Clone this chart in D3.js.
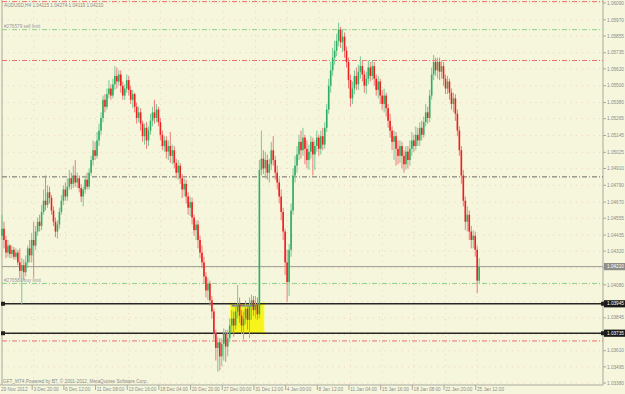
<!DOCTYPE html>
<html><head><meta charset="utf-8">
<script src="https://cdn.jsdelivr.net/npm/d3@7"></script>
<style>html,body{margin:0;padding:0;background:#f6f6dc;overflow:hidden}svg{display:block}text{font-family:"Liberation Sans",Arial,sans-serif}</style>
</head><body><svg id="c" width="625" height="394"></svg>
<script>
// ---------- data ----------
const priceTicks=[1.06090,1.05970,1.05855,1.05735,1.05620,1.05500,1.05380,1.05265,1.05145,1.05025,1.04910,1.04790,1.04670,1.04555,1.04435,1.04320,1.04200,1.04080,1.03960,1.03845,1.03725,1.03610,1.03495,1.03380];
const dateLabels=["29 Nov 2012","3 Dec 20:00","6 Dec 12:00","11 Dec 08:00","13 Dec 16:00","18 Dec 04:00","20 Dec 20:00","27 Dec 00:00","31 Dec 12:00","4 Jan 00:00","8 Jan 12:00","11 Jan 04:00","15 Jan 16:00","18 Jan 08:00","22 Jan 20:00","25 Jan 12:00"];
const dateLabelBars=[0,16,32,48,64,80,96,112,128,144,160,176,192,208,224,240];
const close=[1.0448,1.0440,1.0431,1.0436,1.0430,1.0433,1.0428,1.0431,1.0424,1.0418,
1.0422,1.0417,1.0424,1.0434,1.0429,1.0440,1.0436,1.0446,1.0453,1.0450,
1.0460,1.0468,1.0465,1.0474,1.0470,1.0461,1.0453,1.0446,1.0451,1.0460,
1.0468,1.0476,1.0471,1.0478,1.0484,1.0480,1.0486,1.0481,1.0484,1.0477,
1.0471,1.0476,1.0483,1.0478,1.0488,1.0497,1.0504,1.0500,1.0511,1.0518,
1.0527,1.0540,1.0535,1.0544,1.0548,1.0543,1.0551,1.0557,1.0553,1.0558,
1.0550,1.0543,1.0548,1.0554,1.0547,1.0540,1.0544,1.0535,1.0527,1.0531,
1.0523,1.0514,1.0520,1.0511,1.0518,1.0525,1.0531,1.0527,1.0533,1.0524,
1.0515,1.0507,1.0511,1.0503,1.0507,1.0500,1.0504,1.0495,1.0488,1.0493,
1.0484,1.0476,1.0480,1.0471,1.0463,1.0467,1.0456,1.0447,1.0451,1.0440,
1.0431,1.0424,1.0414,1.0404,1.0409,1.0397,1.0389,1.0373,1.0363,1.0367,
1.0357,1.0366,1.0373,1.0364,1.0370,1.0379,1.0384,1.0379,1.0389,1.0394,
1.0386,1.0379,1.0384,1.0391,1.0383,1.0393,1.0397,1.0390,1.0394,1.0387,
1.0490,1.0498,1.0491,1.0497,1.0488,1.0494,1.0504,1.0497,1.0488,1.0481,
1.0471,1.0460,1.0446,1.0424,1.0410,1.0433,1.0461,1.0486,1.0493,1.0501,
1.0510,1.0504,1.0513,1.0505,1.0497,1.0503,1.0510,1.0501,1.0507,1.0513,
1.0505,1.0514,1.0508,1.0520,1.0533,1.0550,1.0561,1.0570,1.0575,1.0582,
1.0590,1.0581,1.0585,1.0575,1.0567,1.0554,1.0541,1.0548,1.0557,1.0551,
1.0560,1.0564,1.0558,1.0550,1.0555,1.0563,1.0557,1.0564,1.0555,1.0547,
1.0553,1.0543,1.0537,1.0543,1.0534,1.0525,1.0518,1.0510,1.0514,1.0505,
1.0500,1.0507,1.0500,1.0494,1.0503,1.0497,1.0505,1.0511,1.0507,1.0515,
1.0511,1.0520,1.0515,1.0524,1.0531,1.0527,1.0543,1.0558,1.0567,1.0561,
1.0567,1.0560,1.0564,1.0555,1.0548,1.0553,1.0545,1.0537,1.0541,1.0530,
1.0518,1.0504,1.0486,1.0468,1.0453,1.0458,1.0446,1.0440,1.0443,1.0433,1.0411,1.0421];
const open=[1.0443,1.0448,1.0440,1.0431,1.0436,1.0430,1.0433,1.0428,1.0431,1.0424,
1.0418,1.0422,1.0417,1.0424,1.0434,1.0429,1.0440,1.0436,1.0446,1.0453,
1.0450,1.0460,1.0468,1.0465,1.0474,1.0470,1.0461,1.0453,1.0446,1.0451,
1.0460,1.0468,1.0476,1.0471,1.0478,1.0484,1.0480,1.0486,1.0481,1.0484,
1.0477,1.0471,1.0476,1.0483,1.0478,1.0488,1.0497,1.0504,1.0500,1.0511,
1.0518,1.0527,1.0540,1.0535,1.0544,1.0548,1.0543,1.0551,1.0557,1.0553,
1.0558,1.0550,1.0543,1.0548,1.0554,1.0547,1.0540,1.0544,1.0535,1.0527,
1.0531,1.0523,1.0514,1.0520,1.0511,1.0518,1.0525,1.0531,1.0527,1.0533,
1.0524,1.0515,1.0507,1.0511,1.0503,1.0507,1.0500,1.0504,1.0495,1.0488,
1.0493,1.0484,1.0476,1.0480,1.0471,1.0463,1.0467,1.0456,1.0447,1.0451,
1.0440,1.0431,1.0424,1.0414,1.0404,1.0409,1.0397,1.0389,1.0373,1.0363,
1.0367,1.0357,1.0366,1.0373,1.0364,1.0370,1.0379,1.0384,1.0379,1.0389,
1.0394,1.0386,1.0379,1.0384,1.0391,1.0383,1.0393,1.0397,1.0390,1.0394,
1.0387,1.0490,1.0498,1.0491,1.0497,1.0488,1.0494,1.0504,1.0497,1.0488,
1.0481,1.0471,1.0460,1.0446,1.0424,1.0410,1.0433,1.0461,1.0486,1.0493,
1.0501,1.0510,1.0504,1.0513,1.0505,1.0497,1.0503,1.0510,1.0501,1.0507,
1.0513,1.0505,1.0514,1.0508,1.0520,1.0533,1.0550,1.0561,1.0570,1.0575,
1.0582,1.0590,1.0581,1.0585,1.0575,1.0567,1.0554,1.0541,1.0548,1.0557,
1.0551,1.0560,1.0564,1.0558,1.0550,1.0555,1.0563,1.0557,1.0564,1.0555,
1.0547,1.0553,1.0543,1.0537,1.0543,1.0534,1.0525,1.0518,1.0510,1.0514,
1.0505,1.0500,1.0507,1.0500,1.0494,1.0503,1.0497,1.0505,1.0511,1.0507,
1.0515,1.0511,1.0520,1.0515,1.0524,1.0531,1.0527,1.0543,1.0558,1.0567,
1.0561,1.0567,1.0560,1.0564,1.0555,1.0548,1.0553,1.0545,1.0537,1.0541,
1.0530,1.0518,1.0504,1.0486,1.0468,1.0453,1.0458,1.0446,1.0440,1.0443,1.0433,1.0411];
const high=[1.0458,1.0453,1.0443,1.0440,1.0437,1.0436,1.0435,1.0434,1.0433,1.0434,
1.0427,1.0426,1.0429,1.0436,1.0440,1.0445,1.0453,1.0450,1.0456,1.0458,
1.0465,1.0476,1.0486,1.0479,1.0478,1.0472,1.0464,1.0456,1.0454,1.0463,
1.0472,1.0479,1.0481,1.0484,1.0490,1.0488,1.0493,1.0497,1.0488,1.0486,
1.0480,1.0478,1.0486,1.0488,1.0491,1.0500,1.0511,1.0510,1.0517,1.0523,
1.0531,1.0543,1.0544,1.0548,1.0554,1.0551,1.0555,1.0564,1.0563,1.0561,
1.0561,1.0553,1.0551,1.0558,1.0557,1.0550,1.0547,1.0545,1.0538,1.0535,
1.0534,1.0525,1.0523,1.0524,1.0521,1.0530,1.0535,1.0540,1.0537,1.0535,
1.0527,1.0518,1.0514,1.0514,1.0511,1.0517,1.0508,1.0507,1.0498,1.0497,
1.0495,1.0487,1.0484,1.0483,1.0474,1.0471,1.0470,1.0458,1.0454,1.0454,
1.0443,1.0436,1.0428,1.0417,1.0413,1.0411,1.0400,1.0391,1.0376,1.0371,
1.0370,1.0370,1.0377,1.0376,1.0376,1.0384,1.0390,1.0389,1.0394,1.0408,
1.0399,1.0390,1.0389,1.0397,1.0394,1.0399,1.0401,1.0400,1.0400,1.0399,
1.0497,1.0518,1.0504,1.0503,1.0501,1.0498,1.0510,1.0514,1.0500,1.0493,
1.0484,1.0476,1.0463,1.0448,1.0433,1.0437,1.0466,1.0491,1.0500,1.0507,
1.0515,1.0518,1.0520,1.0515,1.0511,1.0508,1.0514,1.0513,1.0511,1.0518,
1.0515,1.0518,1.0520,1.0524,1.0537,1.0555,1.0567,1.0577,1.0582,1.0587,
1.0595,1.0592,1.0590,1.0588,1.0578,1.0570,1.0558,1.0553,1.0561,1.0563,
1.0565,1.0571,1.0568,1.0561,1.0560,1.0568,1.0567,1.0568,1.0567,1.0558,
1.0557,1.0555,1.0547,1.0548,1.0545,1.0537,1.0530,1.0521,1.0518,1.0517,
1.0511,1.0511,1.0510,1.0504,1.0507,1.0507,1.0511,1.0517,1.0515,1.0521,
1.0520,1.0524,1.0525,1.0528,1.0537,1.0535,1.0547,1.0563,1.0572,1.0570,
1.0570,1.0570,1.0568,1.0567,1.0558,1.0557,1.0555,1.0548,1.0545,1.0544,
1.0533,1.0521,1.0507,1.0490,1.0471,1.0464,1.0461,1.0450,1.0447,1.0446,1.0436,1.0427];
const low=[1.0440,1.0434,1.0427,1.0428,1.0427,1.0427,1.0426,1.0426,1.0422,1.0413,
1.0394,1.0411,1.0414,1.0420,1.0424,1.0424,1.0413,1.0433,1.0443,1.0446,
1.0447,1.0458,1.0461,1.0463,1.0466,1.0458,1.0450,1.0442,1.0441,1.0448,
1.0458,1.0465,1.0468,1.0468,1.0476,1.0476,1.0477,1.0478,1.0477,1.0474,
1.0467,1.0464,1.0473,1.0476,1.0476,1.0486,1.0493,1.0497,1.0498,1.0507,
1.0515,1.0524,1.0531,1.0533,1.0541,1.0540,1.0541,1.0547,1.0548,1.0550,
1.0545,1.0540,1.0540,1.0545,1.0543,1.0537,1.0534,1.0531,1.0523,1.0524,
1.0518,1.0510,1.0508,1.0505,1.0507,1.0515,1.0521,1.0523,1.0524,1.0521,
1.0511,1.0504,1.0503,1.0498,1.0497,1.0495,1.0494,1.0491,1.0484,1.0483,
1.0480,1.0470,1.0471,1.0466,1.0458,1.0457,1.0451,1.0443,1.0440,1.0434,
1.0427,1.0420,1.0409,1.0399,1.0397,1.0393,1.0384,1.0369,1.0354,1.0346,
1.0347,1.0350,1.0354,1.0353,1.0357,1.0367,1.0374,1.0371,1.0376,1.0384,
1.0381,1.0373,1.0369,1.0380,1.0376,1.0370,1.0383,1.0386,1.0384,1.0383,
1.0384,1.0486,1.0487,1.0484,1.0483,1.0481,1.0490,1.0493,1.0483,1.0476,
1.0466,1.0454,1.0440,1.0415,1.0396,1.0400,1.0428,1.0458,1.0481,1.0488,
1.0497,1.0498,1.0500,1.0494,1.0491,1.0490,1.0498,1.0486,1.0490,1.0503,
1.0500,1.0501,1.0504,1.0505,1.0517,1.0530,1.0545,1.0557,1.0565,1.0571,
1.0578,1.0577,1.0574,1.0570,1.0563,1.0548,1.0535,1.0537,1.0544,1.0547,
1.0547,1.0555,1.0553,1.0545,1.0544,1.0551,1.0553,1.0554,1.0550,1.0543,
1.0541,1.0537,1.0533,1.0531,1.0528,1.0520,1.0513,1.0504,1.0497,1.0493,
1.0494,1.0495,1.0491,1.0488,1.0490,1.0491,1.0493,1.0500,1.0503,1.0504,
1.0507,1.0507,1.0511,1.0513,1.0521,1.0523,1.0524,1.0540,1.0554,1.0557,
1.0555,1.0554,1.0555,1.0550,1.0544,1.0544,1.0540,1.0533,1.0531,1.0525,
1.0514,1.0500,1.0480,1.0464,1.0447,1.0446,1.0440,1.0434,1.0434,1.0428,1.0402,1.0409];
const dashLevels=[1.0610,1.0590,1.0568,1.0485,1.0409,1.0368];
const dashKinds=["red","green","red","dark","green","red"];
const lineLevels=[1.03945,1.03735];
const lineLabels=["1.03945","1.03735"];
const bidPrice=1.04210, bidLabel="1.04210";
const rectPrices=[1.03945,1.03735], rectBars=[115.6,132.2];
const bluePrice=1.0393, blueBars=[116,128.4];
const headerText="AUDUSD,H4  1.04115 1.04274 1.04119 1.04210";
const sellLabel="#276579 sell limit", buyLabel="#276580 buy limit";
const footerText="GFT_MT4 Powered by BT, \u00a9 2001-2012, MetaQuotes Software Corp.";

// ---------- drawing ----------
const svg=d3.select("#c");
const W=625,H=394,plotR=603,plotB=385;
const y=d3.scaleLinear().domain([1.03380,1.06090]).range([383,3]);
const n=close.length;
const x=d3.scaleLinear().domain([0,n-1]).range([2,2+(n-1)*1.98]);
const fs=4.7, txt="#8c8c8c";

svg.append("rect").attr("width",W).attr("height",H).attr("fill","#f6f6dc");
const grid=svg.append("g").attr("stroke","#eab3ad").attr("stroke-width",0.8).attr("stroke-dasharray","0.8,5").attr("opacity",0.8);
grid.selectAll("line.h").data(priceTicks).join("line").attr("x1",2).attr("x2",plotR).attr("y1",d=>y(d)).attr("y2",d=>y(d));
grid.selectAll("line.v").data(dateLabelBars.slice(1)).join("line").attr("x1",d=>x(d)).attr("x2",d=>x(d)).attr("y1",0).attr("y2",plotB);

// frame
svg.append("line").attr("x1",2).attr("x2",2).attr("y1",0).attr("y2",plotB).attr("stroke","#a8a8a0").attr("stroke-width",1);
svg.append("line").attr("x1",plotR).attr("x2",plotR).attr("y1",0).attr("y2",plotB).attr("stroke","#a8a8a0").attr("stroke-width",1);
svg.append("line").attr("x1",0).attr("x2",plotR).attr("y1",plotB).attr("y2",plotB).attr("stroke","#a8a8a0").attr("stroke-width",1);

// yellow rectangle (behind candles)
svg.append("rect").attr("x",x(rectBars[0])).attr("y",y(rectPrices[0])).attr("width",x(rectBars[1])-x(rectBars[0])).attr("height",y(rectPrices[1])-y(rectPrices[0])).attr("fill","#f7f31c").attr("stroke","#fffb00");
[[rectBars[0],rectPrices[0]],[rectBars[1],rectPrices[0]],[rectBars[0],rectPrices[1]],[rectBars[1],rectPrices[1]]].forEach(p=>{
  svg.append("rect").attr("x",x(p[0])-1.5).attr("y",y(p[1])-1.5).attr("width",3).attr("height",3).attr("fill","#ffff40");
});

// dashed levels
const dashCol={red:"#ea7070",green:"#8ed08e",dark:"#6a6a66"};
svg.selectAll("line.dl").data(dashLevels).join("line").attr("x1",2).attr("x2",plotR).attr("y1",d=>y(d)).attr("y2",d=>y(d))
  .attr("stroke",(d,i)=>dashCol[dashKinds[i]]).attr("stroke-width",1).attr("stroke-dasharray","5,2,1,2");
// bid line
svg.append("line").attr("x1",2).attr("x2",plotR).attr("y1",y(bidPrice)).attr("y2",y(bidPrice)).attr("stroke","#9a9a96").attr("stroke-width",1);
// black horizontal lines
svg.selectAll("line.bl").data(lineLevels).join("line").attr("x1",2).attr("x2",plotR).attr("y1",d=>y(d)).attr("y2",d=>y(d)).attr("stroke","#262626").attr("stroke-width",1.6);
svg.selectAll("rect.bh").data(lineLevels).join("rect").attr("x",1).attr("y",d=>y(d)-2).attr("width",4).attr("height",4).attr("fill","#222");
// blue line
svg.append("line").attr("x1",x(blueBars[0])).attr("x2",x(blueBars[1])).attr("y1",y(bluePrice)).attr("y2",y(bluePrice)).attr("stroke","#3344dd").attr("stroke-width",1);

// candles
const idx=d3.range(n);
const cg=svg.append("g");
cg.selectAll("line.w").data(idx).join("line").attr("x1",i=>x(i)).attr("x2",i=>x(i)).attr("y1",i=>y(high[i])).attr("y2",i=>y(low[i]))
  .attr("stroke",i=>close[i]>=open[i]?"#78c996":"#f07a78").attr("stroke-width",1);
cg.selectAll("rect.b").data(idx).join("rect").attr("x",i=>x(i)-0.8).attr("width",1.6)
  .attr("y",i=>y(Math.max(open[i],close[i]))).attr("height",i=>Math.max(1,Math.abs(y(open[i])-y(close[i]))))
  .attr("fill",i=>close[i]>=open[i]?"#2fae62":"#f01e1e");

// texts
svg.append("text").attr("x",4).attr("y",7.2).attr("font-size",fs).attr("fill","#8a8a8a").text(headerText);
svg.append("text").attr("x",4).attr("y",y(dashLevels[1])-1.5).attr("font-size",fs).attr("fill","#9a9a9a").text(sellLabel);
svg.append("text").attr("x",4).attr("y",y(dashLevels[4])-1.5).attr("font-size",fs).attr("fill","#9a9a9a").text(buyLabel);
svg.append("text").attr("x",3).attr("y",383.3).attr("font-size",fs).attr("fill","#8a8a8a").text(footerText);

// price axis (ticks hidden where an object label box covers them, as in the terminal)
const boxPrices=[bidPrice].concat(lineLevels);
const shownTicks=priceTicks.filter(t=>boxPrices.every(b=>Math.abs(y(t)-y(b))>7));
const pa=svg.append("g");
pa.selectAll("line").data(priceTicks).join("line").attr("x1",plotR).attr("x2",plotR+3).attr("y1",d=>y(d)).attr("y2",d=>y(d)).attr("stroke","#a8a8a0");
pa.selectAll("text").data(shownTicks).join("text").attr("x",607).attr("y",d=>y(d)+1.7).attr("font-size",fs).attr("fill",txt).text(d=>d3.format(".5f")(d));
// bid label
svg.append("rect").attr("x",plotR+1).attr("y",y(bidPrice)-3.6).attr("width",22).attr("height",7.2).attr("fill","#8e8e8a");
svg.append("text").attr("x",607).attr("y",y(bidPrice)+1.7).attr("font-size",fs).attr("fill","#ffffff").text(bidLabel);
// black labels
lineLevels.forEach((v,i)=>{
  svg.append("rect").attr("x",plotR+1).attr("y",y(v)-3.6).attr("width",22).attr("height",7.2).attr("fill","#1a1a1a");
  svg.append("rect").attr("x",plotR-2).attr("y",y(v)-2).attr("width",4).attr("height",4).attr("fill","#222");
  svg.append("text").attr("x",607).attr("y",y(v)+1.7).attr("font-size",fs).attr("fill","#ffffff").text(lineLabels[i]);
});

// date axis
const da=svg.append("g");
da.selectAll("line").data(dateLabelBars.slice(1)).join("line").attr("x1",d=>x(d)-1.5).attr("x2",d=>x(d)-1.5).attr("y1",plotB).attr("y2",plotB+5).attr("stroke","#a8a8a0");
da.selectAll("text").data(dateLabels).join("text").attr("x",(d,i)=>i===0?1:x(dateLabelBars[i])-0.3).attr("y",391).attr("font-size",fs).attr("fill",txt).text(d=>d);
</script></body></html>
